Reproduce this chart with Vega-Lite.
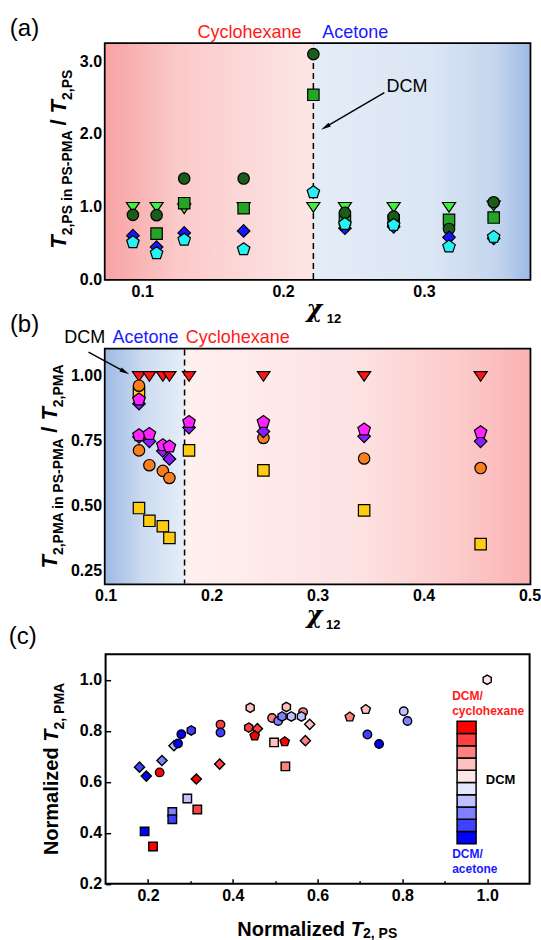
{
  "$schema": "https://vega.github.io/schema/vega-lite/v6.json",
  "background": "white",
  "padding": {"left": 7.6, "top": 15, "right": 5, "bottom": 0},
  "config": {
    "view": {"stroke": "black", "strokeWidth": 3.5},
    "axis": {"domain": false, "grid": false, "ticks": true, "tickColor": "black", "tickWidth": 1.5, "tickSize": 5, "offset": -5, "labelPadding": 4, "labelFont": "Liberation Sans", "labelFontSize": 16, "labelFontWeight": "bold", "labelColor": "black", "labelFlush": false, "labelOverlap": false, "zindex": 1},
    "text": {"font": "Liberation Sans", "baseline": "alphabetic"}
  },
  "resolve": {"scale": {"color": "independent", "shape": "independent"}},
  "spacing": 70.6,
  "bounds": "flush",
  "vconcat": [
    {
      "width": 424, "height": 235,
      "layer": [
        {
          "data": {"values": [{"x": 0.074, "x2": 0.2215, "y": 0, "y2": 3.24}]},
          "mark": {"type": "rect", "fill": {"gradient": "linear", "x1": 0, "y1": 0, "x2": 1, "y2": 0, "stops": [{"offset": 0, "color": "#f7a3a3"}, {"offset": 0.35, "color": "#fbcaca"}, {"offset": 1, "color": "#fde6e6"}]}},
          "encoding": {
            "x": {"field": "x", "type": "quantitative", "scale": {"domain": [0.074, 0.375], "nice": false, "zero": false},
              "axis": {"title": null, "values": [0.1, 0.15, 0.2, 0.25, 0.3, 0.35], "labelExpr": "abs(datum.value*10-round(datum.value*10))<0.001 ? format(datum.value,'.1f') : ''", "tickDash": {"condition": {"test": "abs(datum.value*10-round(datum.value*10))>0.001", "value": [0, 2, 3, 10]}, "value": []}}},
            "x2": {"field": "x2"},
            "y": {"field": "y", "type": "quantitative", "scale": {"domain": [0, 3.24], "nice": false, "zero": false},
              "axis": {"title": null, "values": [0, 0.25, 0.5, 0.75, 1, 1.25, 1.5, 1.75, 2, 2.25, 2.5, 2.75, 3], "labelExpr": "abs(datum.value*2-round(datum.value*2))<0.001 ? format(datum.value,'.1f') : ''", "tickDash": {"condition": {"test": "abs(datum.value*2-round(datum.value*2))>0.001", "value": [0, 2, 3, 10]}, "value": []}}},
            "y2": {"field": "y2"}
          }
        },
        {
          "data": {"values": [{"x": 0.2215, "x2": 0.375, "y": 0, "y2": 3.24}]},
          "mark": {"type": "rect", "fill": {"gradient": "linear", "x1": 0, "y1": 0, "x2": 1, "y2": 0, "stops": [{"offset": 0, "color": "#e4ecf7"}, {"offset": 0.55, "color": "#dbe6f4"}, {"offset": 0.85, "color": "#c3d5ee"}, {"offset": 1, "color": "#9ebbe4"}]}},
          "encoding": {"x": {"field": "x", "type": "quantitative"}, "x2": {"field": "x2"}, "y": {"field": "y", "type": "quantitative"}, "y2": {"field": "y2"}}
        },
        {
          "data": {"values": [{"x": 0.2215, "y": 0, "y2": 3.1}]},
          "mark": {"type": "rule", "color": "black", "strokeWidth": 1.5, "strokeDash": [6, 4]},
          "encoding": {"x": {"field": "x", "type": "quantitative"}, "y": {"field": "y", "type": "quantitative"}, "y2": {"field": "y2"}}
        },
        {
          "data": {"values": [
            {"s": "tri", "x": 0.0934, "y": 1.0}, {"s": "tri", "x": 0.1102, "y": 1.0}, {"s": "tri", "x": 0.1298, "y": 0.98}, {"s": "tri", "x": 0.172, "y": 1.0}, {"s": "tri", "x": 0.2215, "y": 1.0}, {"s": "tri", "x": 0.2439, "y": 1.0}, {"s": "tri", "x": 0.2785, "y": 1.0}, {"s": "tri", "x": 0.3178, "y": 1.0}, {"s": "tri", "x": 0.3495, "y": 1.02},
            {"s": "sq", "x": 0.1102, "y": 0.626}, {"s": "sq", "x": 0.1298, "y": 1.045}, {"s": "sq", "x": 0.172, "y": 0.976}, {"s": "sq", "x": 0.2215, "y": 2.54}, {"s": "sq", "x": 0.2439, "y": 0.82}, {"s": "sq", "x": 0.2785, "y": 0.81}, {"s": "sq", "x": 0.3178, "y": 0.815}, {"s": "sq", "x": 0.3495, "y": 0.847},
            {"s": "cir", "x": 0.0934, "y": 0.884}, {"s": "cir", "x": 0.1102, "y": 0.88}, {"s": "cir", "x": 0.1298, "y": 1.385}, {"s": "cir", "x": 0.172, "y": 1.385}, {"s": "cir", "x": 0.2215, "y": 3.1}, {"s": "cir", "x": 0.2439, "y": 0.912}, {"s": "cir", "x": 0.2785, "y": 0.86}, {"s": "cir", "x": 0.3178, "y": 0.69}, {"s": "cir", "x": 0.3495, "y": 1.058},
            {"s": "dia", "x": 0.0934, "y": 0.598}, {"s": "dia", "x": 0.1102, "y": 0.44}, {"s": "dia", "x": 0.1298, "y": 0.635}, {"s": "dia", "x": 0.172, "y": 0.663}, {"s": "dia", "x": 0.2439, "y": 0.70}, {"s": "dia", "x": 0.2785, "y": 0.72}, {"s": "dia", "x": 0.3178, "y": 0.575}, {"s": "dia", "x": 0.3495, "y": 0.56},
            {"s": "pen", "x": 0.0934, "y": 0.506}, {"s": "pen", "x": 0.1102, "y": 0.354}, {"s": "pen", "x": 0.1298, "y": 0.54}, {"s": "pen", "x": 0.172, "y": 0.41}, {"s": "pen", "x": 0.2215, "y": 1.196}, {"s": "pen", "x": 0.2439, "y": 0.758}, {"s": "pen", "x": 0.2785, "y": 0.745}, {"s": "pen", "x": 0.3178, "y": 0.446}, {"s": "pen", "x": 0.3495, "y": 0.58}
          ]},
          "mark": {"type": "point", "filled": true, "size": 130, "stroke": "black", "strokeWidth": 1.2, "opacity": 1},
          "encoding": {
            "x": {"field": "x", "type": "quantitative"},
            "y": {"field": "y", "type": "quantitative"},
            "color": {"field": "s", "type": "nominal", "scale": {"domain": ["tri", "sq", "cir", "dia", "pen"], "range": ["#40f040", "#25a525", "#1a5c1a", "#1515ff", "#25f2f2"]}, "legend": null},
            "shape": {"field": "s", "type": "nominal", "scale": {"domain": ["tri", "sq", "cir", "dia", "pen"], "range": ["M-1.15,-0.7L1.15,-0.7L0,1.0Z", "square", "circle", "M0,-1.1L1.1,0L0,1.1L-1.1,0Z", "M0,-1.15L1.094,-0.355L0.676,0.93L-0.676,0.93L-1.094,-0.355Z"]}, "legend": null}
          }
        },
        {
          "data": {"values": [{"x": 0.2719, "y": 2.569}, {"x": 0.2300, "y": 2.093}]},
          "mark": {"type": "line", "color": "black", "strokeWidth": 1.4},
          "encoding": {"x": {"field": "x", "type": "quantitative"}, "y": {"field": "y", "type": "quantitative"}}
        },
        {
          "data": {"values": [{"x": 0.2300, "y": 2.093}]},
          "mark": {"type": "point", "shape": "M0,-1L0.45,1L-0.45,1Z", "size": 100, "filled": true, "color": "black", "opacity": 1, "angle": 239.4},
          "encoding": {"x": {"field": "x", "type": "quantitative"}, "y": {"field": "y", "type": "quantitative"}}
        },
        {
          "data": {"values": [{"t": "(a)", "x": 0.006, "y": 3.345}]},
          "mark": {"type": "text", "fontSize": 24, "align": "left", "color": "black"},
          "encoding": {"x": {"field": "x", "type": "quantitative"}, "y": {"field": "y", "type": "quantitative"}, "text": {"field": "t"}}
        },
        {
          "data": {"values": [{"t": "Cyclohexane", "x": 0.2131, "y": 3.323}]},
          "mark": {"type": "text", "fontSize": 18, "align": "right", "color": "#ff1a1a"},
          "encoding": {"x": {"field": "x", "type": "quantitative"}, "y": {"field": "y", "type": "quantitative"}, "text": {"field": "t"}}
        },
        {
          "data": {"values": [{"t": "Acetone", "x": 0.2278, "y": 3.323}]},
          "mark": {"type": "text", "fontSize": 18, "align": "left", "color": "#1a1aff"},
          "encoding": {"x": {"field": "x", "type": "quantitative"}, "y": {"field": "y", "type": "quantitative"}, "text": {"field": "t"}}
        },
        {
          "data": {"values": [{"t": "DCM", "x": 0.2735, "y": 2.578}]},
          "mark": {"type": "text", "fontSize": 18, "align": "left", "color": "black"},
          "encoding": {"x": {"field": "x", "type": "quantitative"}, "y": {"field": "y", "type": "quantitative"}, "text": {"field": "t"}}
        },
        {
          "data": {"values": [{"t": "T", "x": 0.0459, "y": 0.4178}, {"t": "T", "x": 0.0459, "y": 2.283}]},
          "mark": {"type": "text", "fontSize": 22, "fontWeight": "bold", "fontStyle": "italic", "angle": 270, "align": "left", "color": "black"},
          "encoding": {"x": {"field": "x", "type": "quantitative"}, "y": {"field": "y", "type": "quantitative"}, "text": {"field": "t"}}
        },
        {
          "data": {"values": [{"t": "/", "x": 0.0459, "y": 2.115}]},
          "mark": {"type": "text", "fontSize": 22, "fontWeight": "bold", "angle": 270, "align": "left", "color": "black"},
          "encoding": {"x": {"field": "x", "type": "quantitative"}, "y": {"field": "y", "type": "quantitative"}, "text": {"field": "t"}}
        },
        {
          "data": {"values": [{"t": "2,PS in PS-PMA", "x": 0.0501, "y": 0.6025}, {"t": "2,PS", "x": 0.0501, "y": 2.468}]},
          "mark": {"type": "text", "fontSize": 14, "fontWeight": "bold", "angle": 270, "align": "left", "color": "black"},
          "encoding": {"x": {"field": "x", "type": "quantitative"}, "y": {"field": "y", "type": "quantitative"}, "text": {"field": "t"}}
        },
        {
          "data": {"values": [{"t": "χ", "x": 0.2278, "y": -0.528}]},
          "mark": {"type": "text", "font": "DejaVu Serif", "fontSize": 24, "fontWeight": "bold", "fontStyle": "italic", "align": "right", "color": "black"},
          "encoding": {"x": {"field": "x", "type": "quantitative"}, "y": {"field": "y", "type": "quantitative"}, "text": {"field": "t"}}
        },
        {
          "data": {"values": [{"t": "12", "x": 0.231, "y": -0.609}]},
          "mark": {"type": "text", "fontSize": 13, "fontWeight": "bold", "align": "left", "color": "black"},
          "encoding": {"x": {"field": "x", "type": "quantitative"}, "y": {"field": "y", "type": "quantitative"}, "text": {"field": "t"}}
        }
      ]
    },
    {
      "width": 424, "height": 233.8,
      "layer": [
        {
          "data": {"values": [{"x": 0.1, "x2": 0.1745, "y": 0.2, "y2": 1.1}]},
          "mark": {"type": "rect", "fill": {"gradient": "linear", "x1": 0, "y1": 0, "x2": 1, "y2": 0, "stops": [{"offset": 0, "color": "#9fbbe4"}, {"offset": 0.5, "color": "#cddcf1"}, {"offset": 1, "color": "#e6eef8"}]}},
          "encoding": {
            "x": {"field": "x", "type": "quantitative", "scale": {"domain": [0.1, 0.5], "nice": false, "zero": false},
              "axis": {"title": null, "values": [0.1, 0.15, 0.2, 0.25, 0.3, 0.35, 0.4, 0.45, 0.5], "labelExpr": "abs(datum.value*10-round(datum.value*10))<0.001 ? format(datum.value,'.1f') : ''", "tickDash": {"condition": {"test": "abs(datum.value*10-round(datum.value*10))>0.001", "value": [0, 2, 3, 10]}, "value": []}}},
            "x2": {"field": "x2"},
            "y": {"field": "y", "type": "quantitative", "scale": {"domain": [0.2, 1.1], "nice": false, "zero": false},
              "axis": {"title": null, "values": [0.25, 0.375, 0.5, 0.625, 0.75, 0.875, 1.0], "labelExpr": "abs(datum.value*4-round(datum.value*4))<0.001 ? format(datum.value,'.2f') : ''", "tickDash": {"condition": {"test": "abs(datum.value*4-round(datum.value*4))>0.001", "value": [0, 2, 3, 10]}, "value": []}}},
            "y2": {"field": "y2"}
          }
        },
        {
          "data": {"values": [{"x": 0.1745, "x2": 0.5, "y": 0.2, "y2": 1.1}]},
          "mark": {"type": "rect", "fill": {"gradient": "linear", "x1": 0, "y1": 0, "x2": 1, "y2": 0, "stops": [{"offset": 0, "color": "#fff0f0"}, {"offset": 0.5, "color": "#fde2e2"}, {"offset": 0.8, "color": "#fccaca"}, {"offset": 1, "color": "#fbb2b2"}]}},
          "encoding": {"x": {"field": "x", "type": "quantitative"}, "x2": {"field": "x2"}, "y": {"field": "y", "type": "quantitative"}, "y2": {"field": "y2"}}
        },
        {
          "data": {"values": [{"x": 0.1745}]},
          "mark": {"type": "rule", "color": "black", "strokeWidth": 1.5, "strokeDash": [6, 4]},
          "encoding": {"x": {"field": "x", "type": "quantitative"}}
        },
        {
          "data": {"values": [
            {"s": "tri", "x": 0.1315, "y": 1.0}, {"s": "tri", "x": 0.1413, "y": 1.0}, {"s": "tri", "x": 0.154, "y": 1.0}, {"s": "tri", "x": 0.1602, "y": 1.0}, {"s": "tri", "x": 0.1787, "y": 1.0}, {"s": "tri", "x": 0.2489, "y": 1.0}, {"s": "tri", "x": 0.3439, "y": 1.0}, {"s": "tri", "x": 0.4538, "y": 1.0},
            {"s": "sq", "x": 0.1315, "y": 0.935}, {"s": "sq", "x": 0.1315, "y": 0.49}, {"s": "sq", "x": 0.1413, "y": 0.441}, {"s": "sq", "x": 0.154, "y": 0.42}, {"s": "sq", "x": 0.1602, "y": 0.375}, {"s": "sq", "x": 0.1787, "y": 0.712}, {"s": "sq", "x": 0.2489, "y": 0.635}, {"s": "sq", "x": 0.3439, "y": 0.481}, {"s": "sq", "x": 0.4538, "y": 0.351},
            {"s": "cir", "x": 0.1315, "y": 0.961}, {"s": "cir", "x": 0.1315, "y": 0.712}, {"s": "cir", "x": 0.1413, "y": 0.655}, {"s": "cir", "x": 0.154, "y": 0.633}, {"s": "cir", "x": 0.1602, "y": 0.606}, {"s": "cir", "x": 0.2489, "y": 0.76}, {"s": "cir", "x": 0.3439, "y": 0.681}, {"s": "cir", "x": 0.4538, "y": 0.644},
            {"s": "dia", "x": 0.1315, "y": 0.892}, {"s": "dia", "x": 0.1315, "y": 0.764}, {"s": "dia", "x": 0.1413, "y": 0.747}, {"s": "dia", "x": 0.154, "y": 0.71}, {"s": "dia", "x": 0.1602, "y": 0.679}, {"s": "dia", "x": 0.1787, "y": 0.80}, {"s": "dia", "x": 0.2489, "y": 0.785}, {"s": "dia", "x": 0.3439, "y": 0.766}, {"s": "dia", "x": 0.4538, "y": 0.747},
            {"s": "pen", "x": 0.1315, "y": 0.908}, {"s": "pen", "x": 0.1315, "y": 0.77}, {"s": "pen", "x": 0.1413, "y": 0.775}, {"s": "pen", "x": 0.154, "y": 0.732}, {"s": "pen", "x": 0.1602, "y": 0.727}, {"s": "pen", "x": 0.1787, "y": 0.821}, {"s": "pen", "x": 0.2489, "y": 0.821}, {"s": "pen", "x": 0.3439, "y": 0.792}, {"s": "pen", "x": 0.4538, "y": 0.782}
          ]},
          "mark": {"type": "point", "filled": true, "size": 130, "stroke": "black", "strokeWidth": 1.2, "opacity": 1},
          "encoding": {
            "x": {"field": "x", "type": "quantitative"},
            "y": {"field": "y", "type": "quantitative"},
            "color": {"field": "s", "type": "nominal", "scale": {"domain": ["tri", "sq", "cir", "dia", "pen"], "range": ["#ff1414", "#ffcc11", "#fa7d1e", "#8c1cff", "#ff22ff"]}, "legend": null},
            "shape": {"field": "s", "type": "nominal", "scale": {"domain": ["tri", "sq", "cir", "dia", "pen"], "range": ["M-1.15,-0.7L1.15,-0.7L0,1.0Z", "square", "circle", "M0,-1.1L1.1,0L0,1.1L-1.1,0Z", "M0,-1.15L1.094,-0.355L0.676,0.93L-0.676,0.93L-1.094,-0.355Z"]}, "legend": null}
          }
        },
        {
          "data": {"values": [{"x": 0.0839, "y": 1.0906}, {"x": 0.1182, "y": 1.0143}]},
          "mark": {"type": "line", "color": "black", "strokeWidth": 1.4},
          "encoding": {"x": {"field": "x", "type": "quantitative"}, "y": {"field": "y", "type": "quantitative"}}
        },
        {
          "data": {"values": [{"x": 0.1182, "y": 1.0143}]},
          "mark": {"type": "point", "shape": "M0,-1L0.45,1L-0.45,1Z", "size": 100, "filled": true, "color": "black", "opacity": 1, "angle": 118.6},
          "encoding": {"x": {"field": "x", "type": "quantitative"}, "y": {"field": "y", "type": "quantitative"}}
        },
        {
          "data": {"values": [{"t": "(b)", "x": 0.0097, "y": 1.1676}]},
          "mark": {"type": "text", "fontSize": 24, "align": "left", "color": "black"},
          "encoding": {"x": {"field": "x", "type": "quantitative"}, "y": {"field": "y", "type": "quantitative"}, "text": {"field": "t"}}
        },
        {
          "data": {"values": [{"t": "DCM", "x": 0.061, "y": 1.1253}]},
          "mark": {"type": "text", "fontSize": 18, "align": "left", "color": "black"},
          "encoding": {"x": {"field": "x", "type": "quantitative"}, "y": {"field": "y", "type": "quantitative"}, "text": {"field": "t"}}
        },
        {
          "data": {"values": [{"t": "Acetone", "x": 0.1066, "y": 1.1253}]},
          "mark": {"type": "text", "fontSize": 18, "align": "left", "color": "#1a1aff"},
          "encoding": {"x": {"field": "x", "type": "quantitative"}, "y": {"field": "y", "type": "quantitative"}, "text": {"field": "t"}}
        },
        {
          "data": {"values": [{"t": "Cyclohexane", "x": 0.1756, "y": 1.1253}]},
          "mark": {"type": "text", "fontSize": 18, "align": "left", "color": "#ff1a1a"},
          "encoding": {"x": {"field": "x", "type": "quantitative"}, "y": {"field": "y", "type": "quantitative"}, "text": {"field": "t"}}
        },
        {
          "data": {"values": [{"t": "T", "x": 0.0545, "y": 0.2574}, {"t": "T", "x": 0.0545, "y": 0.8267}]},
          "mark": {"type": "text", "fontSize": 22, "fontWeight": "bold", "fontStyle": "italic", "angle": 270, "align": "left", "color": "black"},
          "encoding": {"x": {"field": "x", "type": "quantitative"}, "y": {"field": "y", "type": "quantitative"}, "text": {"field": "t"}}
        },
        {
          "data": {"values": [{"t": "/", "x": 0.0545, "y": 0.7797}]},
          "mark": {"type": "text", "fontSize": 22, "fontWeight": "bold", "angle": 270, "align": "left", "color": "black"},
          "encoding": {"x": {"field": "x", "type": "quantitative"}, "y": {"field": "y", "type": "quantitative"}, "text": {"field": "t"}}
        },
        {
          "data": {"values": [{"t": "2,PMA in PS-PMA", "x": 0.0601, "y": 0.309}, {"t": "2,PMA", "x": 0.0601, "y": 0.8784}]},
          "mark": {"type": "text", "fontSize": 14, "fontWeight": "bold", "angle": 270, "align": "left", "color": "black"},
          "encoding": {"x": {"field": "x", "type": "quantitative"}, "y": {"field": "y", "type": "quantitative"}, "text": {"field": "t"}}
        },
        {
          "data": {"values": [{"t": "χ", "x": 0.3044, "y": 0.0478}]},
          "mark": {"type": "text", "font": "DejaVu Serif", "fontSize": 24, "fontWeight": "bold", "fontStyle": "italic", "align": "right", "color": "black"},
          "encoding": {"x": {"field": "x", "type": "quantitative"}, "y": {"field": "y", "type": "quantitative"}, "text": {"field": "t"}}
        },
        {
          "data": {"values": [{"t": "12", "x": 0.308, "y": 0.0247}]},
          "mark": {"type": "text", "fontSize": 13, "fontWeight": "bold", "align": "left", "color": "black"},
          "encoding": {"x": {"field": "x", "type": "quantitative"}, "y": {"field": "y", "type": "quantitative"}, "text": {"field": "t"}}
        }
      ]
    },
    {
      "width": 424, "height": 229.5,
      "view": {"stroke": "black", "strokeWidth": 2},
      "layer": [
        {
          "data": {"values": [
            {"sh": "hexagon", "comp": 0.3, "x": 0.441, "y": 0.89},
            {"sh": "hexagon", "comp": -0.7, "x": 0.302, "y": 0.801},
            {"sh": "circle", "comp": -0.9, "x": 0.2786, "y": 0.786},
            {"sh": "diamond", "comp": -0.3, "x": 0.2613, "y": 0.741},
            {"sh": "circle", "comp": -0.9, "x": 0.2708, "y": 0.75},
            {"sh": "circle", "comp": 0.7, "x": 0.371, "y": 0.824},
            {"sh": "circle", "comp": -0.7, "x": 0.371, "y": 0.793},
            {"sh": "hexagon", "comp": 0.7, "x": 0.4375, "y": 0.812},
            {"sh": "diamond", "comp": 0.7, "x": 0.458, "y": 0.808},
            {"sh": "pentagon", "comp": 0.9, "x": 0.4516, "y": 0.78},
            {"sh": "diamond", "comp": -0.7, "x": 0.18, "y": 0.657},
            {"sh": "diamond", "comp": -0.9, "x": 0.196, "y": 0.622},
            {"sh": "diamond", "comp": -0.5, "x": 0.233, "y": 0.683},
            {"sh": "circle", "comp": 0.9, "x": 0.2274, "y": 0.6365},
            {"sh": "diamond", "comp": 0.7, "x": 0.369, "y": 0.669},
            {"sh": "diamond", "comp": 0.9, "x": 0.314, "y": 0.6105},
            {"sh": "square", "comp": -0.3, "x": 0.2927, "y": 0.534},
            {"sh": "square", "comp": 0.7, "x": 0.3163, "y": 0.491},
            {"sh": "square", "comp": -0.5, "x": 0.2573, "y": 0.481},
            {"sh": "square", "comp": -0.7, "x": 0.2573, "y": 0.4525},
            {"sh": "square", "comp": -0.9, "x": 0.192, "y": 0.405},
            {"sh": "square", "comp": 0.9, "x": 0.2118, "y": 0.346},
            {"sh": "hexagon", "comp": 0.3, "x": 0.5264, "y": 0.893},
            {"sh": "circle", "comp": 0.5, "x": 0.4926, "y": 0.85},
            {"sh": "circle", "comp": -0.5, "x": 0.507, "y": 0.838},
            {"sh": "hexagon", "comp": -0.5, "x": 0.5162, "y": 0.856},
            {"sh": "hexagon", "comp": -0.3, "x": 0.538, "y": 0.856},
            {"sh": "circle", "comp": 0.5, "x": 0.5658, "y": 0.873},
            {"sh": "hexagon", "comp": -0.3, "x": 0.5618, "y": 0.856},
            {"sh": "diamond", "comp": 0.3, "x": 0.5814, "y": 0.825},
            {"sh": "square", "comp": 0.3, "x": 0.4974, "y": 0.754},
            {"sh": "pentagon", "comp": 0.9, "x": 0.5224, "y": 0.757},
            {"sh": "diamond", "comp": 0.5, "x": 0.5712, "y": 0.761},
            {"sh": "square", "comp": 0.5, "x": 0.524, "y": 0.66},
            {"sh": "pentagon", "comp": 0.5, "x": 0.6758, "y": 0.854},
            {"sh": "pentagon", "comp": 0.3, "x": 0.7136, "y": 0.8835},
            {"sh": "circle", "comp": -0.3, "x": 0.8032, "y": 0.876},
            {"sh": "circle", "comp": -0.5, "x": 0.812, "y": 0.838},
            {"sh": "circle", "comp": -0.7, "x": 0.7175, "y": 0.785},
            {"sh": "circle", "comp": -0.9, "x": 0.745, "y": 0.748},
            {"sh": "hexagon", "comp": 0.1, "x": 1.0, "y": 1.0}
          ]},
          "mark": {"type": "point", "filled": true, "size": 72, "stroke": "black", "strokeWidth": 1.4, "opacity": 1},
          "encoding": {
            "x": {"field": "x", "type": "quantitative", "scale": {"domain": [0.1, 1.1], "nice": false, "zero": false},
              "axis": {"title": null, "values": [0.2, 0.3, 0.4, 0.5, 0.6, 0.7, 0.8, 0.9, 1.0], "labelExpr": "abs(datum.value*5-round(datum.value*5))<0.001 ? format(datum.value,'.1f') : ''", "tickDash": {"condition": {"test": "abs(datum.value*5-round(datum.value*5))>0.001", "value": [0, 2, 3, 10]}, "value": []}}},
            "y": {"field": "y", "type": "quantitative", "scale": {"domain": [0.2, 1.1], "nice": false, "zero": false},
              "axis": {"title": null, "values": [0.2, 0.3, 0.4, 0.5, 0.6, 0.7, 0.8, 0.9, 1.0], "labelExpr": "abs(datum.value*5-round(datum.value*5))<0.001 ? format(datum.value,'.1f') : ''", "tickDash": {"condition": {"test": "abs(datum.value*5-round(datum.value*5))>0.001", "value": [0, 2, 3, 10]}, "value": []}}},
            "color": {"field": "comp", "type": "quantitative",
              "scale": {"type": "quantize", "domain": [-1, 1], "nice": false, "zero": false, "range": ["#0000ff", "#4040ff", "#8080ff", "#c0c0ff", "#e6e6ff", "#ffe6e6", "#ffc0c0", "#ff8080", "#ff4040", "#ff0000"]},
              "legend": {"type": "gradient", "direction": "vertical", "orient": "none", "legendX": 351.5, "legendY": 67.1, "gradientLength": 122.4, "gradientThickness": 19, "gradientStrokeColor": "black", "gradientStrokeWidth": 1.5, "title": null, "labelOpacity": 0, "labelFontSize": 1}},
            "shape": {"field": "sh", "type": "nominal", "scale": {"domain": ["circle", "square", "diamond", "pentagon", "hexagon"], "range": ["circle", "square", "M0,-1.2L1.2,0L0,1.2L-1.2,0Z", "M0,-1.15L1.094,-0.355L0.676,0.93L-0.676,0.93L-1.094,-0.355Z", "M0,-1.1L0.953,-0.55L0.953,0.55L0,1.1L-0.953,0.55L-0.953,-0.55Z"]}, "legend": null}
          }
        },
        {
          "data": {"values": [{"t": "(c)", "x": -0.1283, "y": 1.1412}]},
          "mark": {"type": "text", "fontSize": 24, "align": "left", "color": "black"},
          "encoding": {"x": {"field": "x", "type": "quantitative"}, "y": {"field": "y", "type": "quantitative"}, "text": {"field": "t"}}
        },
        {
          "data": {"values": [{"t": "Normalized", "x": -0.0119, "y": 0.3122}]},
          "mark": {"type": "text", "fontSize": 20, "fontWeight": "bold", "angle": 270, "align": "left", "color": "black"},
          "encoding": {"x": {"field": "x", "type": "quantitative"}, "y": {"field": "y", "type": "quantitative"}, "text": {"field": "t"}}
        },
        {
          "data": {"values": [{"t": "T", "x": -0.0119, "y": 0.7569}]},
          "mark": {"type": "text", "fontSize": 20, "fontWeight": "bold", "fontStyle": "italic", "angle": 270, "align": "left", "color": "black"},
          "encoding": {"x": {"field": "x", "type": "quantitative"}, "y": {"field": "y", "type": "quantitative"}, "text": {"field": "t"}}
        },
        {
          "data": {"values": [{"t": "2, PMA", "x": 0.0022, "y": 0.8047}]},
          "mark": {"type": "text", "fontSize": 14, "fontWeight": "bold", "angle": 270, "align": "left", "color": "black"},
          "encoding": {"x": {"field": "x", "type": "quantitative"}, "y": {"field": "y", "type": "quantitative"}, "text": {"field": "t"}}
        },
        {
          "data": {"values": [{"t": "Normalized", "x": 0.4107, "y": -0.0051}]},
          "mark": {"type": "text", "fontSize": 20, "fontWeight": "bold", "align": "left", "color": "black"},
          "encoding": {"x": {"field": "x", "type": "quantitative"}, "y": {"field": "y", "type": "quantitative"}, "text": {"field": "t"}}
        },
        {
          "data": {"values": [{"t": "T", "x": 0.6783, "y": -0.0051}]},
          "mark": {"type": "text", "fontSize": 20, "fontWeight": "bold", "fontStyle": "italic", "align": "left", "color": "black"},
          "encoding": {"x": {"field": "x", "type": "quantitative"}, "y": {"field": "y", "type": "quantitative"}, "text": {"field": "t"}}
        },
        {
          "data": {"values": [{"t": "2, PS", "x": 0.7071, "y": -0.0149}]},
          "mark": {"type": "text", "fontSize": 14, "fontWeight": "bold", "align": "left", "color": "black"},
          "encoding": {"x": {"field": "x", "type": "quantitative"}, "y": {"field": "y", "type": "quantitative"}, "text": {"field": "t"}}
        },
        {
          "data": {"values": [{"t": "DCM/", "x": 0.9174, "y": 0.9192}, {"t": "cyclohexane", "x": 0.9174, "y": 0.8604}]},
          "mark": {"type": "text", "fontSize": 12, "fontWeight": "bold", "align": "left", "color": "#ff1a1a"},
          "encoding": {"x": {"field": "x", "type": "quantitative"}, "y": {"field": "y", "type": "quantitative"}, "text": {"field": "t"}}
        },
        {
          "data": {"values": [{"t": "DCM", "x": 0.9967, "y": 0.5922}]},
          "mark": {"type": "text", "fontSize": 13, "fontWeight": "bold", "align": "left", "color": "black"},
          "encoding": {"x": {"field": "x", "type": "quantitative"}, "y": {"field": "y", "type": "quantitative"}, "text": {"field": "t"}}
        },
        {
          "data": {"values": [{"t": "DCM/", "x": 0.9174, "y": 0.3008}, {"t": "acetone", "x": 0.9174, "y": 0.2431}]},
          "mark": {"type": "text", "fontSize": 12, "fontWeight": "bold", "align": "left", "color": "#1a1aff"},
          "encoding": {"x": {"field": "x", "type": "quantitative"}, "y": {"field": "y", "type": "quantitative"}, "text": {"field": "t"}}
        }
      ]
    }
  ]
}
